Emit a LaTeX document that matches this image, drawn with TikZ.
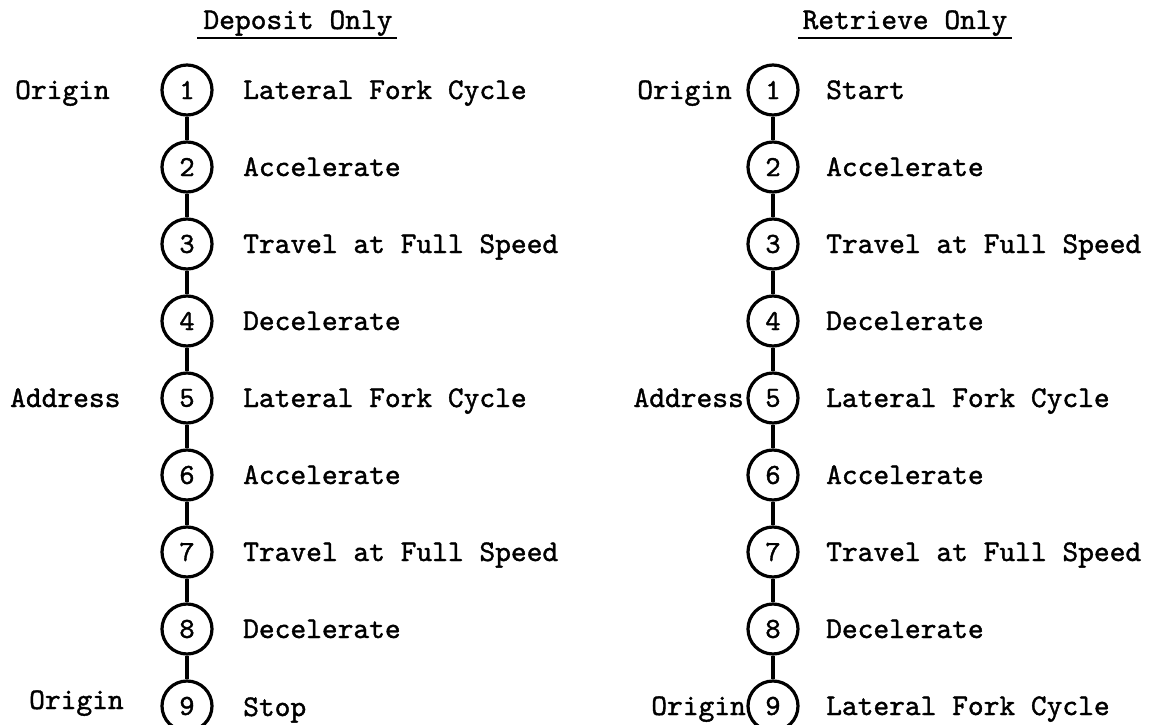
\documentclass[tikz,border=0pt]{standalone}
\usepackage{fontspec}
\newfontfamily\typefont{lmmono10-regular.otf}[FakeBold=1.3]
\usetikzlibrary{positioning}
\begin{document}
\begin{tikzpicture}[x=1pt,y=-1pt,
    txt/.style={font=\fontsize{30}{36}\selectfont\typefont,inner sep=0pt},
    link/.style={line width=3.2pt},
    uline/.style={line width=2.4pt}]
  \tikzstyle{element}=[circle,draw,line width=3.2pt,minimum size=50pt,inner sep=0pt,font=\fontsize{29}{32}\selectfont\typefont]

  \useasboundingbox (0,0) rectangle (1163,725);

  \node[txt,anchor=base] (deptitle) at (298,29) {Deposit Only};
  \node[txt,anchor=base] (rettitle) at (905,29) {Retrieve Only};
  \draw[uline] ([xshift=-6pt,yshift=-2pt]deptitle.south west) -- ([xshift=4pt,yshift=-2pt]deptitle.south east);
  \draw[uline] ([xshift=-4pt,yshift=-2pt]rettitle.south west) -- ([xshift=4pt,yshift=-2pt]rettitle.south east);

  \foreach \i in {1,...,9} {
    \node[element] (d\i) at (187,{90+77*(\i-1)}) {\i};
    \node[element] (r\i) at (773,{90+77*(\i-1)}) {\i};
  }
  \foreach \i [count=\j from 2] in {1,...,8} {
    \draw[link] (d\i) -- (d\j);
    \draw[link] (r\i) -- (r\j);
  }

  \node[txt,anchor=base west] (dorig1) at (15,99) {Origin};
  \node[txt,anchor=base west] (daddr) at (10,407) {Address};
  \node[txt,anchor=base west] (dorig9) at (29,709) {Origin};

  \node[txt,anchor=base west] (dt1) at (243,99) {Lateral Fork Cycle};
  \node[txt,anchor=base west] (dt2) at (243,176) {Accelerate};
  \node[txt,anchor=base west] (dt3) at (243,253) {Travel at Full Speed};
  \node[txt,anchor=base west] (dt4) at (243,330) {Decelerate};
  \node[txt,anchor=base west] (dt5) at (243,407) {Lateral Fork Cycle};
  \node[txt,anchor=base west] (dt6) at (243,484) {Accelerate};
  \node[txt,anchor=base west] (dt7) at (243,561) {Travel at Full Speed};
  \node[txt,anchor=base west] (dt8) at (243,638) {Decelerate};
  \node[txt,anchor=base west] (dt9) at (243,716) {Stop};

  \node[txt,anchor=base east] (rorig1) at (732,99) {Origin};
  \node[txt,anchor=base east] (raddr) at (744,407) {Address};
  \node[txt,anchor=base east] (rorig9) at (746,715) {Origin};

  \node[txt,anchor=base west] (rt1) at (826,99) {Start};
  \node[txt,anchor=base west] (rt2) at (826,176) {Accelerate};
  \node[txt,anchor=base west] (rt3) at (826,253) {Travel at Full Speed};
  \node[txt,anchor=base west] (rt4) at (826,330) {Decelerate};
  \node[txt,anchor=base west] (rt5) at (826,407) {Lateral Fork Cycle};
  \node[txt,anchor=base west] (rt6) at (826,484) {Accelerate};
  \node[txt,anchor=base west] (rt7) at (826,561) {Travel at Full Speed};
  \node[txt,anchor=base west] (rt8) at (826,638) {Decelerate};
  \node[txt,anchor=base west] (rt9) at (826,715) {Lateral Fork Cycle};
\end{tikzpicture}
\end{document}
